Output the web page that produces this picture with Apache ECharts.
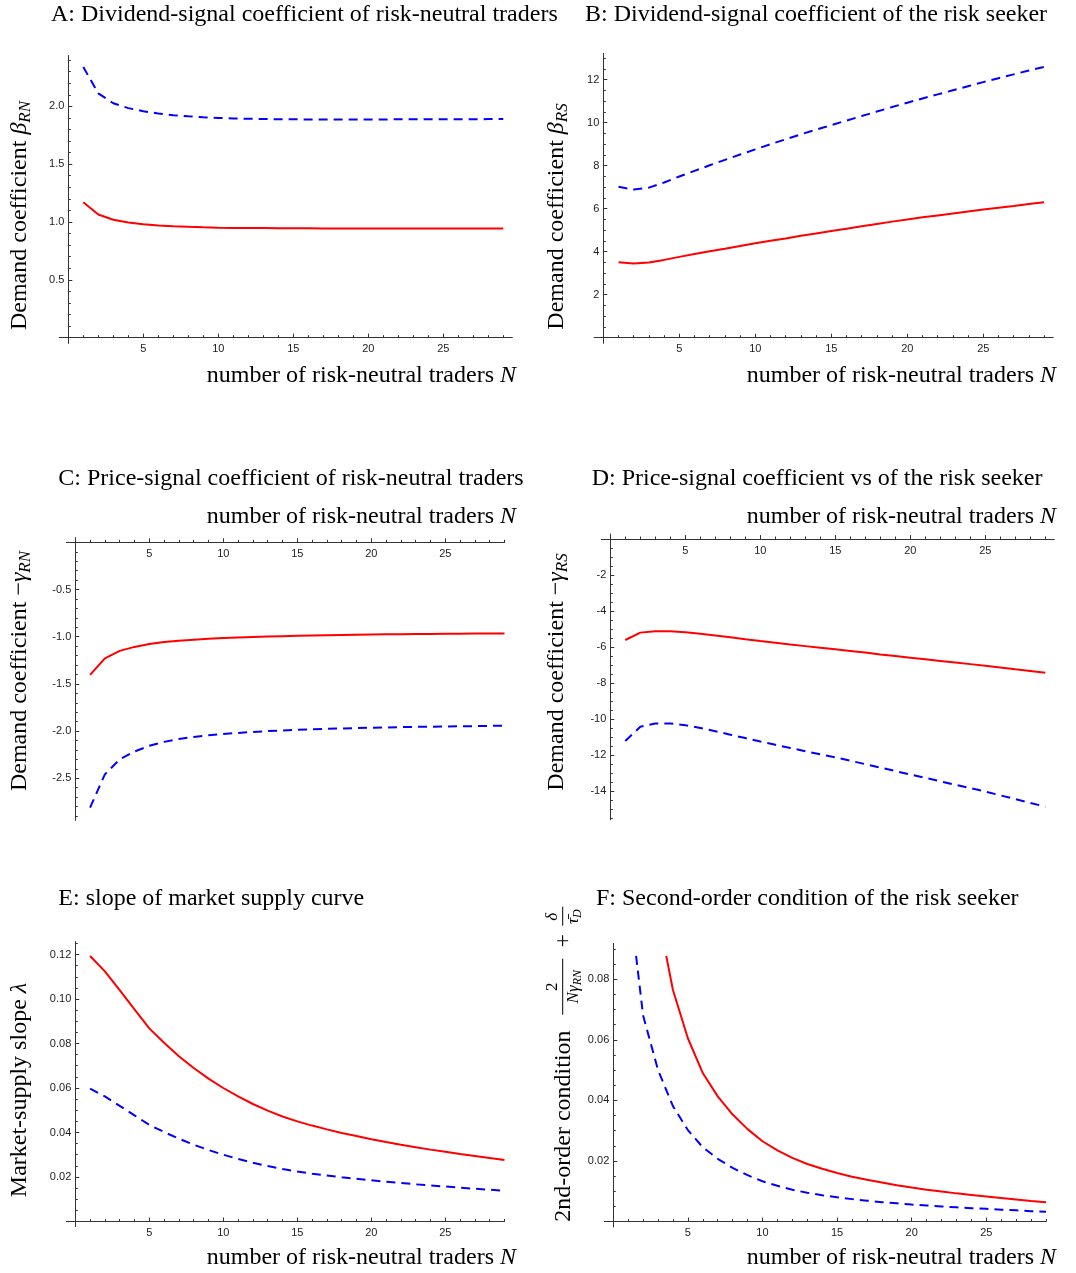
<!DOCTYPE html>
<html><head><meta charset="utf-8">
<script src="https://cdn.jsdelivr.net/npm/echarts@6/dist/echarts.min.js"></script>
<style>html,body{margin:0;padding:0;background:#fff}#c{width:1076px;height:1273px}</style>
</head><body><div id="c"></div>
<script>
// ---------------- data ----------------
const N = [1,2,3,4,5,6,7,8,9,10,11,12,13,14,15,16,17,18,19,20,21,22,23,24,25,26,27,28,29];
const xTickLabels = [5,10,15,20,25];

const A_red  = [1.17,1.065,1.02,0.995,0.98,0.97,0.963,0.958,0.954,0.951,0.949,0.948,0.947,0.946,0.945,0.945,0.944,0.944,0.944,0.944,0.944,0.944,0.944,0.944,0.944,0.944,0.944,0.944,0.944];
const A_blue = [2.34,2.113,2.027,1.985,1.958,1.938,1.924,1.914,1.906,1.9,1.896,1.893,1.891,1.889,1.888,1.887,1.887,1.887,1.887,1.887,1.887,1.888,1.888,1.888,1.889,1.889,1.889,1.89,1.89];
const A_yTicks = [0.5,1.0,1.5,2.0];

const B_red  = [3.51,3.45,3.50,3.62,3.76,3.89,4.02,4.14,4.27,4.39,4.51,4.62,4.74,4.85,4.96,5.07,5.18,5.29,5.40,5.50,5.60,5.69,5.78,5.87,5.96,6.05,6.13,6.22,6.30];
const B_blue = [7.02,6.89,6.98,7.22,7.50,7.76,8.02,8.27,8.52,8.76,9.00,9.23,9.46,9.68,9.89,10.10,10.31,10.52,10.73,10.93,11.13,11.32,11.51,11.70,11.89,12.07,12.25,12.43,12.60];
const B_yTicks = [2,4,6,8,10,12];

const C_red  = [-1.405,-1.229,-1.15,-1.108,-1.078,-1.057,-1.042,-1.031,-1.022,-1.014,-1.008,-1.003,-0.998,-0.994,-0.99,-0.987,-0.984,-0.981,-0.979,-0.977,-0.975,-0.973,-0.972,-0.971,-0.969,-0.968,-0.967,-0.966,-0.965];
const C_blue = [-2.81,-2.458,-2.30,-2.216,-2.156,-2.114,-2.084,-2.062,-2.045,-2.031,-2.019,-2.009,-2.0,-1.993,-1.987,-1.981,-1.976,-1.972,-1.968,-1.964,-1.961,-1.958,-1.955,-1.953,-1.951,-1.949,-1.947,-1.945,-1.943];
const C_yTicks = [-0.5,-1.0,-1.5,-2.0,-2.5];

const D_red  = [-5.61,-5.20,-5.13,-5.12,-5.18,-5.26,-5.36,-5.46,-5.57,-5.67,-5.76,-5.86,-5.95,-6.04,-6.13,-6.22,-6.31,-6.41,-6.50,-6.59,-6.68,-6.77,-6.86,-6.95,-7.04,-7.14,-7.24,-7.33,-7.43];
const D_blue = [-11.22,-10.43,-10.25,-10.25,-10.34,-10.50,-10.68,-10.87,-11.06,-11.25,-11.43,-11.61,-11.79,-11.96,-12.13,-12.32,-12.51,-12.70,-12.89,-13.08,-13.27,-13.46,-13.65,-13.84,-14.03,-14.24,-14.45,-14.66,-14.87];
const D_yTicks = [-2,-4,-6,-8,-10,-12,-14];

const E_red  = [0.1193,0.1124,0.1040,0.0953,0.0868,0.0803,0.0743,0.0690,0.0642,0.0600,0.0562,0.0528,0.0498,0.0472,0.0450,0.0431,0.0414,0.0398,0.0384,0.0370,0.0357,0.0345,0.0334,0.0323,0.0313,0.0303,0.0294,0.0285,0.0276];
const E_blue = [0.0597,0.0562,0.0520,0.0477,0.0434,0.0402,0.0372,0.0345,0.0321,0.0300,0.0281,0.0264,0.0249,0.0236,0.0225,0.0215,0.0207,0.0199,0.0192,0.0185,0.0179,0.0173,0.0167,0.0162,0.0157,0.0152,0.0147,0.0143,0.0138];
const E_yTicks = [0.02,0.04,0.06,0.08,0.10,0.12];

// panel F is clipped at the top of its plot range: first visible point is where the curve enters
const F_red_N  = [3.55,4,5,6,7,8,9,10,11,12,13,14,15,16,17,18,19,20,21,22,23,24,25,26,27,28,29];
const F_red    = [0.0877,0.0764,0.0605,0.0490,0.0413,0.0353,0.0305,0.0265,0.0235,0.0210,0.0190,0.0174,0.0160,0.0148,0.0138,0.0129,0.0120,0.0112,0.0105,0.0099,0.0093,0.0088,0.0083,0.0078,0.0073,0.0068,0.0064];
const F_blue_N = [1.53,2,3,4,5,6,7,8,9,10,11,12,13,14,15,16,17,18,19,20,21,22,23,24,25,26,27,28,29];
const F_blue   = [0.0877,0.068,0.050,0.0381,0.0302,0.0245,0.0207,0.0177,0.0153,0.0133,0.0118,0.0105,0.0095,0.0087,0.0080,0.0074,0.0069,0.0064,0.0060,0.0056,0.0053,0.0050,0.0047,0.0044,0.0042,0.0039,0.0037,0.0034,0.0032];
const F_yTicks = [0.02,0.04,0.06,0.08];

// ---------------- layout ----------------
const SERIF = '"Liberation Serif","Times New Roman",serif';
const SANS = '"Liberation Sans",Arial,sans-serif';
const AX = '#333';
const RED = '#ff0000', BLUE = '#0000ff';

const PANELS = [
  {box:[59.3,55.5,453,287.9],  x:[-0.6,29.6], y:[-0.05,2.44],   yt:A_yTicks, step:0.1,   dec:1, rx:N, r:A_red, bx:N, b:A_blue},
  {box:[594.2,53.3,459,290],   x:[-0.6,29.6], y:[-0.26,13.23],  yt:B_yTicks, step:0.5,   dec:0, rx:N, r:B_red, bx:N, b:B_blue},
  {box:[66.4,537.6,438.1,282.7], x:[-0.6,29], y:[-2.945,0.05],  yt:C_yTicks, step:0.1,   dec:1, rx:N, r:C_red, bx:N, b:C_blue},
  {box:[601.3,534,453,285.8],  x:[-0.6,29.6], y:[-15.6,0.28],   yt:D_yTicks, step:0.5,   dec:0, rx:N, r:D_red, bx:N, b:D_blue},
  {box:[66.4,941.6,438.1,285], x:[-0.6,29],   y:[-0.0023,0.1258], yt:E_yTicks, step:0.005, dec:2, rx:N, r:E_red, bx:N, b:E_blue},
  {box:[604.3,943.4,441.7,283.6], x:[-0.6,29], y:[-0.0018,0.0918], yt:F_yTicks, step:0.005, dec:2, rx:F_red_N, r:F_red, bx:F_blue_N, b:F_blue}
];

function minorTicks(lo, hi, step, majors) {
  const out = [];
  for (let k = Math.ceil(lo/step - 1e-9); k <= Math.floor(hi/step + 1e-9); k++) {
    const v = Math.round(k*step*1e6)/1e6;
    if (v === 0) continue;
    if (majors.some(m => Math.abs(m - v) < 1e-9)) continue;
    out.push(v);
  }
  return out;
}
function zip(xs, ys) { return xs.map((x, i) => [x, ys[i]]); }

const grid = [], xAxis = [], yAxis = [], series = [];
const lineS = {color: AX, width: 1};
PANELS.forEach((p, gi) => {
  const [gl, gt, gw, gh] = p.box;
  grid.push({left:gl, top:gt, width:gw, height:gh, containLabel:false});
  const pxX = gw / (p.x[1] - p.x[0]);
  const pxY = gh / (p.y[1] - p.y[0]);
  const negative = p.y[1] < Math.abs(p.y[0]);     // C, D: zero line near the top
  const xPos = negative ? 'top' : 'bottom';
  const xOff = negative ? -(p.y[1] * pxY) : -(-p.y[0] * pxY);
  const yOff = -(-p.x[0] * pxX);
  const xMinor = minorTicks(1, p.x[1], 1, xTickLabels);
  const yMinor = minorTicks(p.y[0], p.y[1], p.step, p.yt);
  const tickIn = !negative;
  xAxis.push({type:'value', gridIndex:gi, min:p.x[0], max:p.x[1], position:xPos, offset:xOff,
    axisLine:{show:true, onZero:false, lineStyle:lineS},
    axisTick:{show:true, inside:tickIn, length:4, customValues:xTickLabels, lineStyle:lineS},
    axisLabel:{show:true, inside:negative, customValues:xTickLabels, margin:6, fontSize:11, fontFamily:SANS, color:'#222'},
    splitLine:{show:false}});
  xAxis.push({type:'value', gridIndex:gi, min:p.x[0], max:p.x[1], position:xPos, offset:xOff,
    axisLine:{show:false, onZero:false},
    axisTick:{show:true, inside:tickIn, length:2.5, customValues:xMinor, lineStyle:lineS},
    axisLabel:{show:false}, splitLine:{show:false}});
  yAxis.push({type:'value', gridIndex:gi, min:p.y[0], max:p.y[1], position:'left', offset:yOff,
    axisLine:{show:true, onZero:false, lineStyle:lineS},
    axisTick:{show:true, inside:true, length:4, customValues:p.yt, lineStyle:lineS},
    axisLabel:{show:true, customValues:p.yt, margin:4, fontSize:11, fontFamily:SANS, color:'#222',
      formatter: v => Number(v).toFixed(p.dec)},
    splitLine:{show:false}});
  yAxis.push({type:'value', gridIndex:gi, min:p.y[0], max:p.y[1], position:'left', offset:yOff,
    axisLine:{show:false, onZero:false},
    axisTick:{show:true, inside:true, length:2.5, customValues:yMinor, lineStyle:lineS},
    axisLabel:{show:false}, splitLine:{show:false}});
  series.push({type:'line', xAxisIndex:2*gi, yAxisIndex:2*gi, data:zip(p.bx, p.b), symbol:'none', showSymbol:false,
    lineStyle:{color:BLUE, width:2, type:[9,6]}, z:3, clip:true});
  series.push({type:'line', xAxisIndex:2*gi, yAxisIndex:2*gi, data:zip(p.rx, p.r), symbol:'none', showSymbol:false,
    lineStyle:{color:RED, width:2, type:'solid'}, z:4, clip:true});
});

// ---------------- text ----------------
const RICH = {
  it:  {fontFamily:SERIF, fontSize:24, fontStyle:'italic', fill:'#000'},
  sub: {fontFamily:SERIF, fontSize:17, fontStyle:'italic', fill:'#000', padding:[12,0,0,0]}
};
function txt(x, y, s, align, rot, size) {
  return {type:'text', x:x, y:y, rotation:rot||0, silent:true, z:50,
    style:{text:s, fontFamily:SERIF, fontSize:size||24, fill:'#000', align:align||'left', verticalAlign:'middle', rich:RICH}};
}
const XNAME = 'number of risk-neutral traders {it|N}';
const R90 = Math.PI/2;
const SUBR = {a:{fontFamily:SERIF, fontSize:17, fontStyle:'italic', fill:'#000'}, b:{fontFamily:SERIF, fontSize:12, fontStyle:'italic', fill:'#000', padding:[9,0,0,0]}};
const elements = [
  txt(51, 14.3, 'A: Dividend-signal coefficient of risk-neutral traders'),
  txt(585, 14.3, 'B: Dividend-signal coefficient of the risk seeker'),
  txt(58.3, 478.7, 'C: Price-signal coefficient of risk-neutral traders'),
  txt(591.7, 478.7, 'D: Price-signal coefficient vs of the risk seeker'),
  txt(58.3, 898.7, 'E: slope of market supply curve'),
  txt(596, 898.7, 'F: Second-order condition of the risk seeker'),
  txt(516, 375.3, XNAME, 'right'),
  txt(1056, 375.3, XNAME, 'right'),
  txt(516, 517, XNAME, 'right'),
  txt(1056, 517, XNAME, 'right'),
  txt(516, 1258, XNAME, 'right'),
  txt(1056, 1258, XNAME, 'right'),
  txt(20, 215.5, 'Demand coefficient {it|β}{sub|RN}', 'center', R90),
  txt(557, 216.5, 'Demand coefficient {it|β}{sub|RS}', 'center', R90),
  txt(20, 671, 'Demand coefficient \u2212{it|γ}{sub|RN}', 'center', R90),
  txt(557, 672, 'Demand coefficient \u2212{it|γ}{sub|RS}', 'center', R90),
  txt(20, 1090, 'Market-supply slope {it|λ}', 'center', R90),
  {type:'group', x:563.7, y:1221.7, rotation:R90, silent:true, z:50, children:[
    {type:'text', x:0, y:0, style:{text:'2nd-order condition', fontFamily:SERIF, fontSize:24, fill:'#000', align:'left', verticalAlign:'middle'}},
    {type:'text', x:235, y:-11, style:{text:'2', fontFamily:SERIF, fontSize:17, fill:'#000', align:'center', verticalAlign:'middle'}},
    {type:'line', shape:{x1:207, y1:-1, x2:263, y2:-1}, style:{stroke:'#000', lineWidth:1}},
    {type:'text', x:235, y:10, style:{text:'{a|Nγ}{b|RN}', fontFamily:SERIF, fontSize:17, fill:'#000', align:'center', verticalAlign:'middle', rich:SUBR}},
    {type:'text', x:281, y:0, style:{text:'+', fontFamily:SERIF, fontSize:24, fill:'#000', align:'center', verticalAlign:'middle'}},
    {type:'text', x:305, y:-11, style:{text:'δ', fontFamily:SERIF, fontSize:17, fontStyle:'italic', fill:'#000', align:'center', verticalAlign:'middle'}},
    {type:'line', shape:{x1:296, y1:-1, x2:315, y2:-1}, style:{stroke:'#000', lineWidth:1}},
    {type:'text', x:305, y:10, style:{text:'{a|τ\u0304}{b|D}', fontFamily:SERIF, fontSize:17, fill:'#000', align:'center', verticalAlign:'middle', rich:SUBR}}
  ]}
];

const chart = echarts.init(document.getElementById('c'), null, {renderer:'canvas'});
chart.setOption({
  animation:false,
  backgroundColor:'#ffffff',
  grid, xAxis, yAxis, series,
  graphic:{elements}
});
</script>
</body></html>
